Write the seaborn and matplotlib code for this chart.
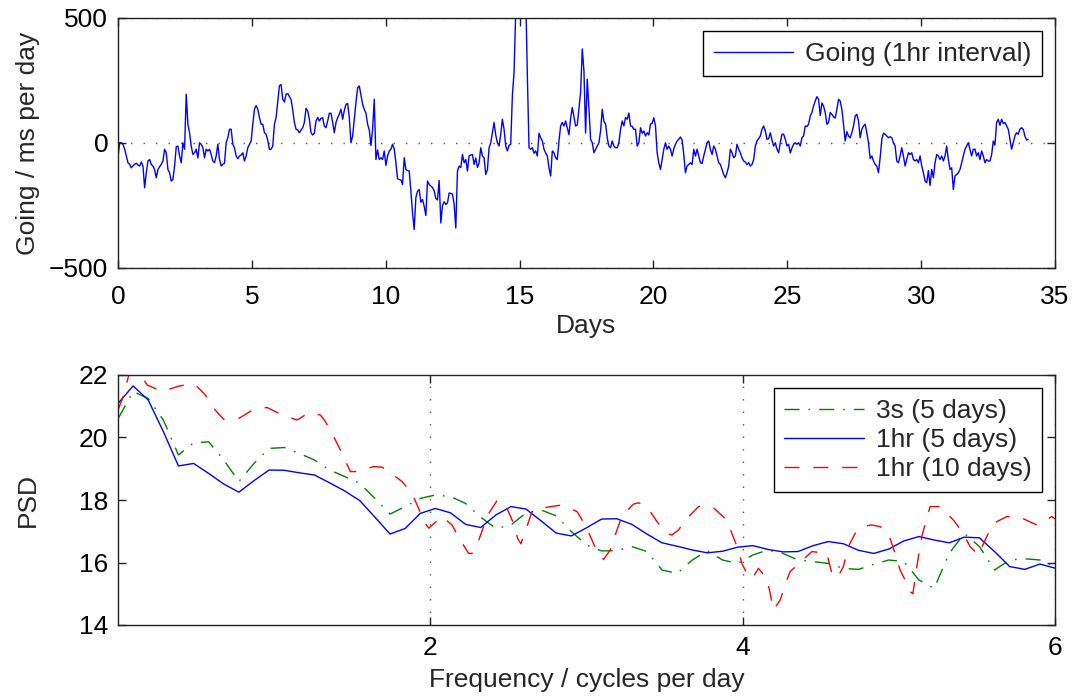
import numpy as np
import pandas as pd
import matplotlib
matplotlib.use("Agg")
import matplotlib.pyplot as plt
import seaborn as sns

# ---------------- data: top panel (going, ms per day), sampled along 0..34 days ----------------
going_ms = [
    # days 0 - 5.7
    -55, 1, 1, -5, -25, -52, -79, -85, -99, -92, -85, -81, -88, -92, -76, -92, -179, -119, -72, -66,
    -86, -92, -106, -139, -106, -95, -85, -72, -25, -39, -106, -119, -152, -146, -92, -15, -12, -52, -79, 1,
    -25, 195, 75, 41, -12, -46, -39, -25, -60, 1, -5, -19, -59, -25, -32, -25, -46, -72, -79, -52,
    -5, -66, -92, -85, -81, 1, 21, 55, 55, -5, -19, -52, -63, -52, -48, -39, -72, -52, -19, -5,
    8, 75, 135, 150, 135, 102, 75, 75, 41, 35, 10, -25,
    # days 5.7 - 11.7
    -25, -12, 75, 102, 167, 229, 234, 175, 164, 195, 198, 186, 174, 132, 82, 55, 52, 41, 52, 61,
    82, 139, 128, 95, 41, 32, 39, 88, 102, 88, 99, 101, 68, 61, 88, 119, 119, 82, 41, 82,
    101, 115, 135, 95, 130, 155, 158, 101, 1, 28, 95, 162, 221, 228, 191, 155, 135, 119, 75, 52,
    -10, 55, 175, -66, -28, -66, -59, -66, -32, -90, -52, -32, -25, -5, -25, -79, -143, -146, -148, -166,
    -59, -106, -110, -112, -191, -279, -346, -219, -193, -186, -237, -226, -253, -290, -152, -166,
    # days 11.7 - 17.7
    -172, -178, -191, -222, -228, -150, -320, -250, -235, -246, -240, -200, -202, -205, -245, -340, -112, -92, -98, -46,
    -79, -66, -112, -52, -48, -46, -86, -60, -98, -80, -19, -52, -59, -126, -106, -19, 1, 41, 82, 32,
    1, -12, 35, 95, 55, -12, -32, -9, -5, 190, 282, 520, 900, 900, 900, 900, 900, 600, 269, -19,
    -25, -19, -41, -32, -52, 39, 21, 8, -25, -40, -52, -99, -132, -32, -39, -59, -66, 8, 68, 82,
    68, 88, 61, 33, 99, 142, 106, 68, 72, 135, 202, 376, 289, 40, 255, 139,
    # days 17.7 - 23.6
    15, 1, -39, -25, -12, 1, 48, 135, 86, 76, 21, -12, -19, 8, -12, -19, -19, 1, 55, 88,
    68, 102, 95, 120, 68, 67, 55, 55, -12, 1, 61, 39, 48, 28, 41, 32, 76, 79, 101, 68,
    -39, -79, -106, -66, -25, 1, -25, -12, -25, -52, -23, -5, 8, 15, 24, 12, -46, -119, -92, -86,
    -79, -86, -25, -52, -25, -52, -79, -82, -52, -25, 1, 8, -25, -46, -12, -25, -52, -79, -86, -106,
    -126, -139, -119, -92, -25, -39, -59, -52, -5, -25, -39, -59, -72, -76, -86, -79,
    # days 23.6 - 29.6
    -92, -86, -66, -12, 8, 17, 28, 55, 68, 48, 15, 17, 41, 12, -12, 1, -25, -39, 1, 35,
    35, 15, -12, -5, -40, -20, -5, 1, -5, 1, -12, 21, 28, 68, 66, 75, 108, 122, 148, 168,
    185, 175, 110, 160, 148, 122, 75, 82, 122, 115, 105, 100, 135, 175, 168, 135, 75, 8, 45, 28,
    21, 41, 68, 108, 115, 88, 21, 55, 68, 75, 41, 1, -62, -52, -72, -86, -92, -119, -60, 15,
    39, 35, 28, 21, 25, 21, 1, -12, -72, -79, -52, -19, -52, -92, -66, -39,
    # days 29.6 - 34
    -46, -39, -66, -72, -66, -79, -52, -92, -119, -152, -159, -110, -170, -106, -139, -79, -46, -52, -66, -52,
    -72, -52, -12, -66, -106, -99, -186, -132, -126, -119, -106, -79, -52, -25, -12, 1, -25, -52, -25, -25,
    -52, -39, -66, -32, -52, -79, -66, -72, -72, -47, 8, -9, 82, 95, 71, 95, 78, 82, 68, 55,
    15, -25, 1, 28, 41, 35, 55, 61, 55, 28, 12, 15,
]
going_start_day = 0.0
going_end_day = 34.0

# ---------------- data: bottom panel (PSD) ----------------
psd_freq_max = 6.0
psd_3s_5d = [
    20.6, 21.47, 21.25, 20.56, 19.44, 19.83, 19.86, 19.28, 18.59, 19.17, 19.65, 19.68, 19.49, 19.28, 18.96,
    18.75, 18.53, 18.05, 17.55, 17.79, 18.05, 18.16,
    18.11, 17.89, 17.45, 17.09, 17.2, 17.59, 17.68, 17.49, 16.99, 16.56, 16.37, 16.38, 16.51, 16.35,
    15.76, 15.65, 16.08, 16.37, 16.08, 15.97, 16.24,
    16.4, 16.29, 16.08, 16.03, 15.97, 15.81, 15.78, 15.94, 16.08, 16.03, 15.44, 15.17, 16.29, 16.93,
    16.51, 15.76, 16.08, 16.12, 16.08, 15.87,
]
psd_1h_5d = [
    21.09, 21.65, 21.2, 20.19, 19.09, 19.17, 18.85, 18.51, 18.25, 18.62, 18.96, 18.95, 18.87, 18.8, 18.55,
    18.29, 17.98, 17.45, 16.91, 17.09, 17.57, 17.73,
    17.59, 17.22, 17.12, 17.52, 17.79, 17.71, 17.33, 16.94, 16.85, 17.11, 17.39, 17.40, 17.22, 16.91,
    16.63, 16.52, 16.40, 16.31, 16.36, 16.49, 16.54,
    16.42, 16.34, 16.35, 16.54, 16.67, 16.60, 16.39, 16.29, 16.43, 16.69, 16.83, 16.72, 16.63, 16.81,
    16.79, 16.35, 15.87, 15.78, 15.95, 15.82,
]
red_freq = [
    0.0, 0.037, 0.069, 0.133, 0.187, 0.283, 0.379, 0.475, 0.507, 0.56, 0.613, 0.677, 0.773, 0.869, 0.955,
    1.051, 1.147, 1.221, 1.296, 1.328, 1.381, 1.424, 1.488, 1.541, 1.637, 1.691, 1.733, 1.819, 1.883, 1.947,
    1.968, 1.99, 2.075, 2.139, 2.192, 2.245, 2.267, 2.299, 2.341, 2.367, 2.427, 2.459, 2.491, 2.533, 2.559,
    2.58, 2.619, 2.651, 2.747, 2.843, 2.939, 2.992, 3.035, 3.067, 3.109, 3.152, 3.195, 3.227, 3.301, 3.333,
    3.387, 3.451, 3.515, 3.547, 3.589, 3.643, 3.717, 3.76, 3.813, 3.899, 3.931, 3.973, 3.995, 4.037, 4.061,
    4.101, 4.155, 4.176, 4.197, 4.24, 4.283, 4.304, 4.443, 4.539, 4.571, 4.605, 4.645, 4.677, 4.72, 4.763,
    4.827, 4.88, 4.933, 4.976, 5.008, 5.04, 5.072, 5.09, 5.115, 5.147, 5.2, 5.264, 5.349, 5.413, 5.456,
    5.509, 5.563, 5.605, 5.691, 5.776, 5.883, 5.979, 6.0,
]
psd_1h_10d = [
    20.88, 21.36, 22.0, 22.1, 21.68, 21.47, 21.63, 21.73, 21.63, 21.36, 20.93, 20.58, 20.61, 20.9, 20.96,
    20.72, 20.56, 20.79, 20.72, 20.51, 20.03, 19.6, 18.91, 18.91, 19.07, 19.05, 18.91, 18.59, 18.21, 17.47,
    17.25, 17.1, 17.47, 17.2, 16.72, 16.29, 16.29, 16.56, 17.15, 17.52, 17.98, 17.98, 17.73, 17.25, 16.77,
    16.6, 17.15, 17.63, 17.77, 17.84, 17.63, 17.2, 16.72, 16.35, 16.1, 16.4, 17.04, 17.47, 17.87, 17.91,
    17.79, 17.31, 16.93, 16.88, 17.04, 17.41, 17.79, 17.82, 17.75, 17.36, 16.93, 16.4, 15.97, 15.55, 15.49,
    15.81, 15.49, 15.01, 14.48, 14.8, 15.44, 15.71, 16.35, 16.29, 15.65, 15.5, 15.87, 16.51, 16.93, 17.15,
    17.2, 17.15, 16.93, 16.29, 15.76, 15.44, 15.07, 15.0, 15.87, 16.83, 17.79, 17.79, 17.36, 16.93, 16.51,
    16.24, 16.83, 17.25, 17.47, 17.45, 17.2, 17.47, 17.4,
]

top_xticks = [0, 5, 10, 15, 20, 25, 30, 35]
top_yticks = [-500, 0, 500]
bot_xticks = [2, 4, 6]
bot_yticks = [14, 16, 18, 20, 22]

# ---------------- style ----------------
FS = 19
sns.set_style("ticks")
plt.rcParams['font.family'] = ['Liberation Sans', 'DejaVu Sans']
plt.rcParams['font.size'] = FS
plt.rcParams['axes.unicode_minus'] = True

W, H = 1076, 700
fig = plt.figure(figsize=(W / 100, H / 100), dpi=100)
ax1 = fig.add_axes([118 / W, 1 - 268 / H, 937 / W, 250 / H])
ax2 = fig.add_axes([118 / W, 1 - 625 / H, 937 / W, 250 / H])

days = np.linspace(going_start_day, going_end_day, len(going_ms))
df_top = pd.DataFrame({"Days": days, "Going": going_ms})
sns.lineplot(data=df_top, x="Days", y="Going", ax=ax1, color="#0000ff", linewidth=1.0,
             estimator=None, sort=False, label="Going (1hr interval)")

freq5 = np.linspace(0, psd_freq_max, len(psd_1h_5d))
df_b = pd.DataFrame({"f": freq5, "g": psd_3s_5d, "b": psd_1h_5d})
df_r = pd.DataFrame({"f": red_freq, "r": psd_1h_10d})
sns.lineplot(data=df_b, x="f", y="g", ax=ax2, color="#008000", linewidth=1.0,
             estimator=None, sort=False, label="3s (5 days)")
sns.lineplot(data=df_b, x="f", y="b", ax=ax2, color="#0000ff", linewidth=1.0,
             estimator=None, sort=False, label="1hr (5 days)")
sns.lineplot(data=df_r, x="f", y="r", ax=ax2, color="#ff0000", linewidth=1.0,
             estimator=None, sort=False, label="1hr (10 days)")
ax2.lines[0].set_dashes([10.8, 6.5, 1.2, 6.5])
ax2.lines[2].set_dashes([10.8, 10.0])

for ax in (ax1, ax2):
    for sp in ax.spines.values():
        sp.set_visible(True)
        sp.set_linewidth(1.0)
        sp.set_color("#222222")
    ax.tick_params(direction="in", top=True, right=True, length=6, width=1.0,
                   colors="#222222", labelcolor="black", labelsize=FS)
    ax.tick_params(axis="y", pad=7)
    ax.set_facecolor("white")

ax1.tick_params(axis="x", pad=12)
ax2.tick_params(axis="x", pad=8)

ax1.set_xlim(0, 35)
ax1.set_ylim(-500, 500)
ax1.set_xticks(top_xticks)
ax1.set_yticks(top_yticks)
ax1.grid(axis="y", color="#555555", linestyle=(0, (1, 8)), linewidth=1.0)
ax1.grid(axis="x", visible=False)
ax1.set_xlabel("Days", fontsize=FS, labelpad=4)
ax1.set_ylabel("Going / ms per day", fontsize=FS)
ax1.yaxis.set_label_coords(-0.083, 0.5)
leg1 = ax1.legend(loc="upper right", frameon=True, fancybox=False, edgecolor="black", framealpha=1,
                  handlelength=3.0, handletextpad=0.45, borderpad=0.4, borderaxespad=0.5, fontsize=FS)
leg1.get_frame().set_linewidth(1.0)

ax2.set_xlim(0, 6)
ax2.set_ylim(14, 22)
ax2.set_xticks(bot_xticks)
ax2.set_yticks(bot_yticks)
ax2.grid(axis="x", color="#555555", linestyle=(0, (1, 8)), linewidth=1.0)
ax2.grid(axis="y", visible=False)
ax2.set_xlabel("Frequency / cycles per day", fontsize=FS, labelpad=6)
ax2.set_ylabel("PSD", fontsize=FS)
ax2.yaxis.set_label_coords(-0.083, 0.5)
leg2 = ax2.legend(loc="upper right", frameon=True, fancybox=False, edgecolor="black", framealpha=1,
                  handlelength=3.0, handletextpad=0.45, borderpad=0.4, borderaxespad=0.5,
                  fontsize=FS, labelspacing=0.2)
leg2.get_frame().set_linewidth(1.0)

fig.savefig("out.png", dpi=100, facecolor="white")
